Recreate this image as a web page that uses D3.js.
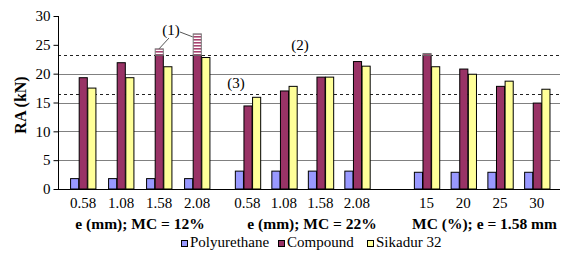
<!DOCTYPE html>
<html>
<head>
<meta charset="utf-8">
<script src="https://cdn.jsdelivr.net/npm/d3@7"></script>
<style>
  body { margin: 0; background: #fff; }
  svg { display: block; }
</style>
</head>
<body>
<svg id="chart" width="567" height="257"></svg>
<script>
// data
const groupTitles = ["e (mm); MC = 12%", "e (mm); MC = 22%", "MC (%); e = 1.58 mm"];
const groupCategories = [
  ["0.58", "1.08", "1.58", "2.08"],
  ["0.58", "1.08", "1.58", "2.08"],
  ["15", "20", "25", "30"]
];
const seriesNames = ["Polyurethane", "Compound", "Sikadur 32"];
const polyurethane = [[1.8, 1.8, 1.8, 1.8], [3.1, 3.1, 3.1, 3.1], [2.9, 2.9, 2.9, 2.9]];
const compound = [[19.3, 21.9, 23.2, 23.2], [14.4, 17.0, 19.4, 22.1], [23.2, 20.8, 17.8, 14.9]];
const sikadur = [[17.5, 19.3, 21.2, 22.8], [15.9, 17.8, 19.4, 21.3], [21.2, 19.9, 18.7, 17.3]];
// hatched part on top of some Compound bars
const compoundExtra = [[null, null, 24.3, 26.9], [null, null, null, null], [23.5, null, null, null]];
const yTicks = [0, 5, 10, 15, 20, 25, 30];
const gridValues = [5, 10, 15, 20];
const refLines = [{value: 23.2, label: "(2)"}, {value: 16.4, label: "(3)"}];

const svg = d3.select("#chart")
  .attr("font-family", "'Liberation Serif', 'DejaVu Serif', serif");
const plotLeft = 58, plotRight = 560, plotTop = 16, plotBottom = 189;
const colors = ["#9999FF", "#993366", "#FFFF99"];
const groupRanges = [[64, 216], [229, 375], [408, 555]];

const y = d3.scaleLinear().domain([0, 30]).range([plotBottom, plotTop]);

const xGroups = groupRanges.map((r, i) =>
  d3.scaleBand().domain(groupCategories[i]).range(r).paddingInner(0.32).paddingOuter(0.16));
const xSeries = d3.scaleBand().domain(seriesNames).range([0, xGroups[0].bandwidth()]);

// hatch pattern
const defs = svg.append("defs");
const pat = defs.append("pattern")
  .attr("id", "hatch").attr("patternUnits", "userSpaceOnUse")
  .attr("width", 4).attr("height", 3);
pat.append("rect").attr("width", 4).attr("height", 3).attr("fill", "#fff");
pat.append("rect").attr("width", 4).attr("height", 1.6).attr("fill", "#a8436f");

// gridlines
svg.append("g").selectAll("line").data(gridValues).join("line")
  .attr("x1", plotLeft).attr("x2", plotRight)
  .attr("y1", d => Math.round(y(d)) + 0.5).attr("y2", d => Math.round(y(d)) + 0.5)
  .attr("stroke", "#808080");

// dashed reference lines
svg.append("g").selectAll("line").data(refLines).join("line")
  .attr("x1", plotLeft).attr("x2", plotRight)
  .attr("y1", d => Math.round(y(d.value)) + 0.5).attr("y2", d => Math.round(y(d.value)) + 0.5)
  .attr("stroke", "#222").attr("stroke-dasharray", "3,3");

// bars
const allSeries = [polyurethane, compound, sikadur];
groupCategories.forEach((cats, gi) => {
  const xg = xGroups[gi];
  const g = svg.append("g");
  cats.forEach((c, ci) => {
    allSeries.forEach((s, si) => {
      const v = s[gi][ci];
      g.append("rect")
        .attr("x", xg(c) + xSeries(seriesNames[si]) + 0.5)
        .attr("y", y(v))
        .attr("width", xSeries.bandwidth() - 0.5)
        .attr("height", y(0) - y(v))
        .attr("fill", colors[si])
        .attr("stroke", "#000").attr("stroke-width", 1);
    });
    const ext = compoundExtra[gi][ci];
    if (ext != null) {
      const v0 = compound[gi][ci];
      g.append("rect")
        .attr("x", xg(c) + xSeries("Compound") + 0.5)
        .attr("y", y(ext))
        .attr("width", xSeries.bandwidth() - 0.5)
        .attr("height", y(v0) - y(ext))
        .attr("fill", "url(#hatch)")
        .attr("stroke", "#777").attr("stroke-width", 1);
    }
  });
  // category labels
  g.selectAll("text.cat").data(cats).join("text")
    .attr("class", "cat")
    .attr("x", d => xg(d) + xg.bandwidth() / 2)
    .attr("y", 208)
    .attr("text-anchor", "middle")
    .attr("font-size", 15)
    .text(d => d);
  // group title
  g.append("text")
    .attr("x", (groupRanges[gi][0] + groupRanges[gi][1]) / 2 + (gi === 2 ? 3 : (gi === 1 ? 10 : 0)))
    .attr("y", 229)
    .attr("text-anchor", "middle")
    .attr("font-size", 15.5).attr("font-weight", "bold")
    .text(groupTitles[gi]);
});

// axes
const yAxis = svg.append("g")
  .attr("transform", "translate(" + (plotLeft + 0.5) + ",0)")
  .call(d3.axisLeft(y).tickValues(yTicks).tickSize(5).tickSizeOuter(0).tickPadding(3));
yAxis.attr("font-family", null).attr("font-size", 15);
yAxis.selectAll("text").attr("fill", "#000");
yAxis.select(".domain").attr("d", "M0," + plotTop + "V" + plotBottom);

svg.append("line")
  .attr("x1", plotLeft).attr("x2", plotRight)
  .attr("y1", plotBottom + 0.5).attr("y2", plotBottom + 0.5)
  .attr("stroke", "#000");

svg.append("text")
  .attr("transform", "translate(26,105) rotate(-90)")
  .attr("text-anchor", "middle")
  .attr("font-size", 16).attr("font-weight", "bold")
  .text("RA (kN)");

// annotations
const g1 = xGroups[0];
const bw = xSeries.bandwidth();
const a1x = 171, a1y = 35;
svg.append("text").attr("x", a1x).attr("y", a1y).attr("text-anchor", "middle")
  .attr("font-size", 15).text("(1)");
svg.append("line")
  .attr("x1", a1x - 2).attr("y1", a1y + 3)
  .attr("x2", g1("1.58") + xSeries("Compound") + bw / 2).attr("y2", y(compoundExtra[0][2]))
  .attr("stroke", "#555");
svg.append("line")
  .attr("x1", a1x + 9).attr("y1", a1y - 3)
  .attr("x2", g1("2.08") + xSeries("Compound")).attr("y2", y(compoundExtra[0][3]) + 3)
  .attr("stroke", "#555");
svg.append("text").attr("x", 300).attr("y", 50).attr("text-anchor", "middle")
  .attr("font-size", 15).text(refLines[0].label);
svg.append("text").attr("x", 236).attr("y", 88).attr("text-anchor", "middle")
  .attr("font-size", 15).text(refLines[1].label);

// legend
const legendX = [181, 278, 367];
const legend = svg.append("g").selectAll("g").data(seriesNames).join("g")
  .attr("transform", (d, i) => "translate(" + legendX[i] + ",240)");
legend.append("rect").attr("x", 0.5).attr("y", 0.5).attr("width", 6).attr("height", 6)
  .attr("fill", (d, i) => colors[i]).attr("stroke", "#000");
legend.append("text").attr("x", 9).attr("y", 7)
  .attr("font-size", 15).text(d => d);
</script>
</body>
</html>
